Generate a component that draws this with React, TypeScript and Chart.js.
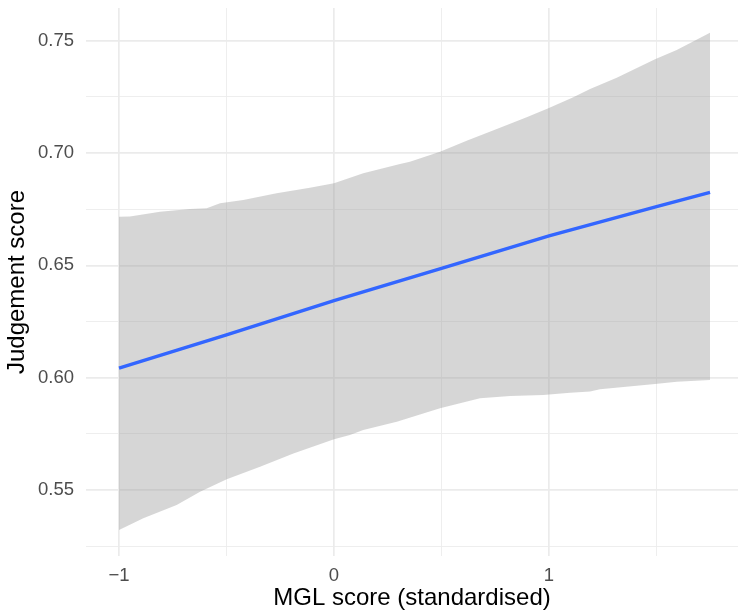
import React, { useEffect, useRef } from "react";
import { Chart, registerables } from "chart.js";

Chart.register(...registerables);

// Confidence ribbon: upper edge
const upperX = [-1, -0.949, -0.809, -0.67, -0.592, -0.53, -0.422, -0.267, -0.112, 0, 0.136, 0.307, 0.353, 0.493, 0.617, 0.772, 0.896, 0.997, 1.113, 1.191, 1.315, 1.493, 1.594, 1.749];
const upperY = [0.6716, 0.6717, 0.6739, 0.6751, 0.6754, 0.6776, 0.6791, 0.6821, 0.6846, 0.6865, 0.691, 0.6951, 0.6961, 0.7006, 0.7055, 0.7113, 0.7159, 0.7199, 0.7248, 0.7285, 0.7335, 0.7417, 0.7459, 0.7536];
// Confidence ribbon: lower edge
const lowerX = [-1, -0.887, -0.732, -0.623, -0.499, -0.344, -0.189, 0, 0.074, 0.136, 0.292, 0.493, 0.679, 0.819, 0.973, 1.098, 1.191, 1.237, 1.493, 1.594, 1.749];
const lowerY = [0.5322, 0.5374, 0.5433, 0.5492, 0.5548, 0.5604, 0.5663, 0.5726, 0.5745, 0.5767, 0.5804, 0.5864, 0.5908, 0.5918, 0.5923, 0.5933, 0.5938, 0.5948, 0.5972, 0.5982, 0.599];
// Fitted line
const lineX = [-1, -0.5, 0, 0.5, 1, 1.5, 1.749];
const lineY = [0.6042, 0.619, 0.6343, 0.6487, 0.6631, 0.6761, 0.6825];

// Axes
const xMajorTicks = [-1, 0, 1];
const xMajorLabels = ["\u22121", "0", "1"];
const xMinorTicks = [-0.5, 0.5, 1.5];
const yMajorTicks = [0.55, 0.6, 0.65, 0.7, 0.75];
const yMajorLabels = ["0.55", "0.60", "0.65", "0.70", "0.75"];
const yMinorTicks = [0.525, 0.575, 0.625, 0.675, 0.725];
const xRange = [-1.1535, 1.879];
const yRange = [0.52062, 0.76456];
const xTitle = "MGL score (standardised)";
const yTitle = "Judgement score";

const FONT = "'Liberation Sans', Arial, Helvetica, sans-serif";

export default function App() {
  const ref = useRef<HTMLCanvasElement | null>(null);

  useEffect(() => {
    if (!ref.current) return;
    const pts = (xs: number[], ys: number[]) => xs.map((x, i) => ({ x, y: ys[i] }));
    const gridWidth = (majors: number[]) => (ctx: any) =>
      ctx.tick && majors.includes(ctx.tick.value) ? 1.7 : 0.85;

    const chart = new Chart(ref.current, {
      type: "line",
      data: {
        datasets: [
          {
            data: pts(upperX, upperY),
            borderWidth: 0,
            pointRadius: 0,
            backgroundColor: "rgba(153,153,153,0.4)",
            fill: "+1",
            order: 2,
            tension: 0,
          },
          {
            data: pts(lowerX, lowerY),
            borderWidth: 0,
            pointRadius: 0,
            fill: false,
            order: 2,
            tension: 0,
          },
          {
            data: pts(lineX, lineY),
            borderColor: "#3366FF",
            borderWidth: 3.4,
            pointRadius: 0,
            fill: false,
            order: 0,
            tension: 0,
          },
        ],
      },
      options: {
        animation: false,
        responsive: false,
        layout: { padding: { top: 8, right: 0, left: 0, bottom: 0 } },
        plugins: { legend: { display: false }, tooltip: { enabled: false } },
        scales: {
          x: {
            type: "linear",
            min: xRange[0],
            max: xRange[1],
            border: { display: false },
            grid: { color: "#ebebeb", lineWidth: gridWidth(xMajorTicks), drawTicks: false },
            afterBuildTicks: (s: any) => {
              s.ticks = [...xMajorTicks, ...xMinorTicks].sort((a, b) => a - b).map((v) => ({ value: v }));
            },
            afterFit: (s: any) => {
              s.height = 57;
              s.paddingLeft = 0;
              s.paddingRight = 0;
            },
            ticks: {
              autoSkip: false,
              maxRotation: 0,
              padding: 9,
              color: "#4d4d4d",
              font: { family: FONT, size: 18.5 },
              callback: (v: any) => {
                const i = xMajorTicks.indexOf(Number(v));
                return i >= 0 ? xMajorLabels[i] : "";
              },
            },
            title: {
              display: true,
              text: xTitle,
              color: "#000000",
              font: { family: FONT, size: 24, lineHeight: 1.2 },
              padding: { top: 0, bottom: 0 },
            },
          },
          y: {
            type: "linear",
            min: yRange[0],
            max: yRange[1],
            border: { display: false },
            grid: { color: "#ebebeb", lineWidth: gridWidth(yMajorTicks), drawTicks: false },
            afterBuildTicks: (s: any) => {
              s.ticks = [...yMajorTicks, ...yMinorTicks].sort((a, b) => a - b).map((v) => ({ value: v }));
            },
            afterFit: (s: any) => {
              s.width = 86;
              s.paddingTop = 0;
              s.paddingBottom = 0;
            },
            ticks: {
              autoSkip: false,
              padding: 12,
              color: "#4d4d4d",
              font: { family: FONT, size: 18.5 },
              callback: (v: any) => {
                const i = yMajorTicks.indexOf(Number(v));
                return i >= 0 ? yMajorLabels[i] : "";
              },
            },
            title: {
              display: true,
              text: yTitle,
              color: "#000000",
              font: { family: FONT, size: 24, lineHeight: 1.2 },
              padding: { top: 3, bottom: 0 },
            },
          },
        },
      },
    } as any);
    return () => chart.destroy();
  }, []);

  return (
    <div style={{ position: "absolute", left: 0, top: 0, width: 738, height: 613, background: "#fff" }}>
      <canvas ref={ref} width={738} height={613} style={{ display: "block" }} />
    </div>
  );
}
